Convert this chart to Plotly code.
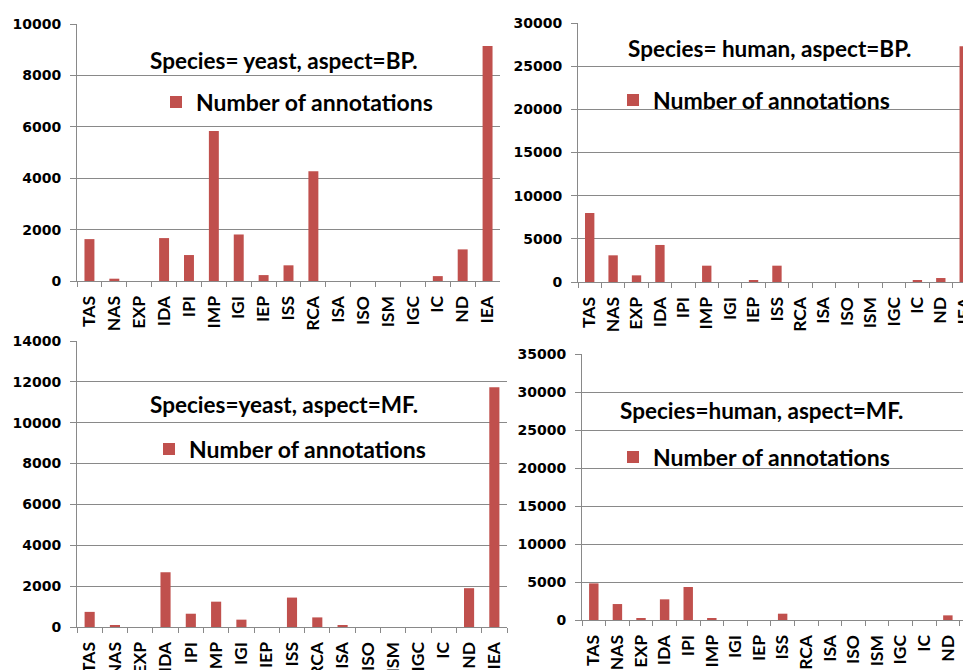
import plotly.graph_objects as go

# the page body keeps its default 8px margin, so the figure starts at (8, 8)
OFF = 8
PAGE_W, PAGE_H = 971, 670
W, H = PAGE_W - OFF, PAGE_H - OFF

categories = ["TAS", "NAS", "EXP", "IDA", "IPI", "IMP", "IGI", "IEP", "ISS",
              "RCA", "ISA", "ISO", "ISM", "IGC", "IC", "ND", "IEA"]

yeast_bp = [1630, 90, 0, 1670, 1010, 5840, 1810, 230, 610, 4270, 0, 0, 0, 0, 190, 1230, 9145]
human_bp = [7990, 3090, 770, 4290, 0, 1890, 0, 120, 1890, 0, 0, 0, 0, 0, 120, 460, 27300]
yeast_mf = [740, 50, 0, 2680, 650, 1240, 360, 0, 1440, 470, 50, 0, 0, 0, 0, 1900, 11740]
human_mf = [4820, 2100, 260, 2720, 4340, 260, 0, 0, 830, 0, 0, 0, 0, 0, 0, 610, 29250]

titles = ["Species= yeast, aspect=BP.", "Species= human, aspect=BP.",
          "Species=yeast, aspect=MF.", "Species=human, aspect=MF."]
series_name = "Number of annotations"

BAR = "#C0504D"
GREY = "#898989"
FONT = "Lato"


def px_x(p):
    return (p - OFF) / W


def px_y(p):
    return 1 - (p - OFF) / H


# panel layout in page pixels
panels = [
    dict(l=77, r=500, t=24, b=281, xend=16.5, ymax=10000, dt=2000,
         title=(284, 60), leg=(156, 102)),
    dict(l=578, r=971, t=23, b=282, xend=16.29, ymax=30000, dt=5000,
         title=(769, 48), leg=(613, 100)),
    dict(l=77, r=507, t=341, b=627, xend=16.5, ymax=14000, dt=2000,
         title=(284, 404), leg=(149, 449)),
    dict(l=582, r=971, t=354, b=620, xend=15.98, ymax=35000, dt=5000,
         title=(761, 410), leg=(613, 457)),
]
data = [yeast_bp, human_bp, yeast_mf, human_mf]

fig = go.Figure()
layout = dict(
    width=W, height=H, margin=dict(l=0, r=0, t=0, b=0, autoexpand=False),
    paper_bgcolor="white", plot_bgcolor="white",
    bargap=0.6, annotations=[],
    font=dict(family=FONT, color="black"),
)

for i, (p, vals) in enumerate(zip(panels, data)):
    n = "" if i == 0 else str(i + 1)
    leg = "legend" if i == 0 else f"legend{i + 1}"
    fig.add_trace(go.Bar(
        x=categories, y=vals, name=series_name,
        marker=dict(color=BAR, line=dict(width=0)),
        xaxis="x" + n, yaxis="y" + n, legend=leg, showlegend=True,
    ))
    layout["xaxis" + n] = dict(
        domain=[px_x(p["l"]), px_x(p["r"])], anchor="y" + n,
        type="category", range=[-0.5, p["xend"]], automargin=False,
        showline=True, linecolor=GREY, linewidth=1,
        ticks="outside", ticklen=5, tickcolor=GREY, tickson="boundaries",
        tickangle=-90, showgrid=False, ticklabelstandoff=7,
        tickfont=dict(family=FONT, size=17.5, weight="bold", color="black"),
    )
    layout["yaxis" + n] = dict(
        domain=[px_y(p["b"]), px_y(p["t"])], anchor="x" + n,
        range=[0, p["ymax"]], dtick=p["dt"], tick0=0, tickformat="d",
        automargin=False,
        showline=True, linecolor=GREY, linewidth=1,
        ticks="outside", ticklen=6, tickcolor=GREY,
        showgrid=True, gridcolor=GREY, gridwidth=1.2, zeroline=False,
        ticklabelstandoff=6,
        tickfont=dict(family="DejaVu Sans", size=14, weight="bold", color="black"),
    )
    layout[leg] = dict(
        x=px_x(p["leg"][0]), y=px_y(p["leg"][1]), xanchor="left", yanchor="middle",
        bgcolor="rgba(0,0,0,0)", borderwidth=0,
        font=dict(family=FONT, size=23, weight="bold", color="black"),
    )
    layout["annotations"].append(dict(
        text=titles[i], xref="paper", yref="paper",
        x=px_x(p["title"][0]), y=px_y(p["title"][1]),
        xanchor="center", yanchor="middle", showarrow=False,
        font=dict(family=FONT, size=22.5, weight="bold", color="black"),
    ))

fig.update_layout(**layout)
fig.write_html("out.html")
